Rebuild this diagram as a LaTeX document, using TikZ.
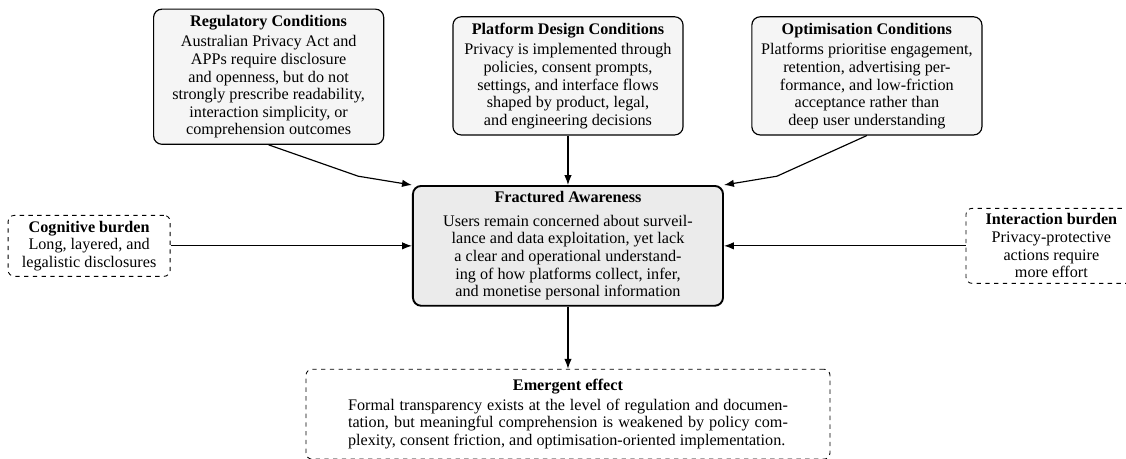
\documentclass[tikz,border=0pt]{standalone}
\usepackage{fontspec}
\setmainfont{Liberation Serif}
\usetikzlibrary{arrows.meta}

\begin{document}
\begin{tikzpicture}[
    % Box styles (conditions, core and burdens)
    boxfont/.style={font=\fontsize{11.1}{12.1}\selectfont},
    cond/.style={boxfont, fill=gray!8, draw=black, line width=0.8pt, rounded corners=2mm, align=center, minimum width=5.55cm, minimum height=2.85cm, inner sep=2pt},
    core/.style={boxfont, fill=gray!16, draw=black, line width=1.3pt, rounded corners=2mm, align=center, minimum width=7.48cm, minimum height=2.89cm, inner sep=2pt},
    burden/.style={boxfont, draw=black, dashed, line width=0.6pt, rounded corners=1.5mm, align=center, inner sep=2pt},
    link/.style={-{Latex[length=2.4mm,width=1.8mm]}, line width=0.8pt}
]
\useasboundingbox (0,0) rectangle (27.16,-11.07);

% ---------------------------------------------------------
% 1. NODES
% ---------------------------------------------------------
% Top row: conditions
\node[cond, minimum height=3.26cm] (reg) at (6.48,-1.85) {\textbf{Regulatory Conditions}\\[2pt]
    Australian Privacy Act and\\APPs require disclosure\\and openness, but do not\\strongly prescribe readability,\\interaction simplicity, or\\comprehension outcomes};

\node[cond] (plat) at (13.70,-1.83) {\textbf{Platform Design Conditions}\\[2pt]
    Privacy is implemented through\\policies, consent prompts,\\settings, and interface flows\\shaped by product, legal,\\and engineering decisions};

\node[cond] (opt) at (20.91,-1.83) {\textbf{Optimisation Conditions}\\[2pt]
    Platforms prioritise engagement,\\retention, advertising per-\\formance, and low-friction\\acceptance rather than\\deep user understanding};

% Core: fractured awareness
\node[core] (frac) at (13.70,-5.93) {\textbf{Fractured Awareness}\\[4pt]
    Users remain concerned about surveil-\\lance and data exploitation, yet lack\\a clear and operational understand-\\ing of how platforms collect, infer,\\and monetise personal information};

% Side burdens
\node[burden, minimum width=3.91cm, minimum height=1.47cm] (cog) at (2.15,-5.93) {\textbf{Cognitive burden}\\
    Long, layered, and\\legalistic disclosures};

\node[burden, minimum width=4.12cm, minimum height=1.81cm] (inter) at (25.36,-5.93) {\textbf{Interaction burden}\\
    Privacy-protective\\actions require\\more effort};

% Bottom: emergent effect
\node[burden, minimum width=12.64cm, minimum height=2.17cm, text width=10.61cm, align=justify] (emerg) at (13.70,-9.99) {{\centering\textbf{Emergent effect}\par}\vspace{1pt}
    Formal transparency exists at the level of regulation and documen-\linebreak
    tation, but meaningful comprehension is weakened by policy com-\linebreak
    plexity, consent friction, and optimisation-oriented implementation.};

% ---------------------------------------------------------
% 2. CONNECTORS
% ---------------------------------------------------------
\coordinate (regbend) at (8.64,-4.25);
\coordinate (optbend) at (18.74,-4.25);

\draw[link] (reg.south) -- (regbend) -- (frac.north west);
\draw[link] (plat.south) -- (frac.north);
\draw[link] (opt.south) -- (optbend) -- (frac.north east);
\draw[link] (cog.east) -- (frac.west);
\draw[link] (inter.west) -- (frac.east);
\draw[link] (frac.south) -- (emerg.north);

\end{tikzpicture}
\end{document}
